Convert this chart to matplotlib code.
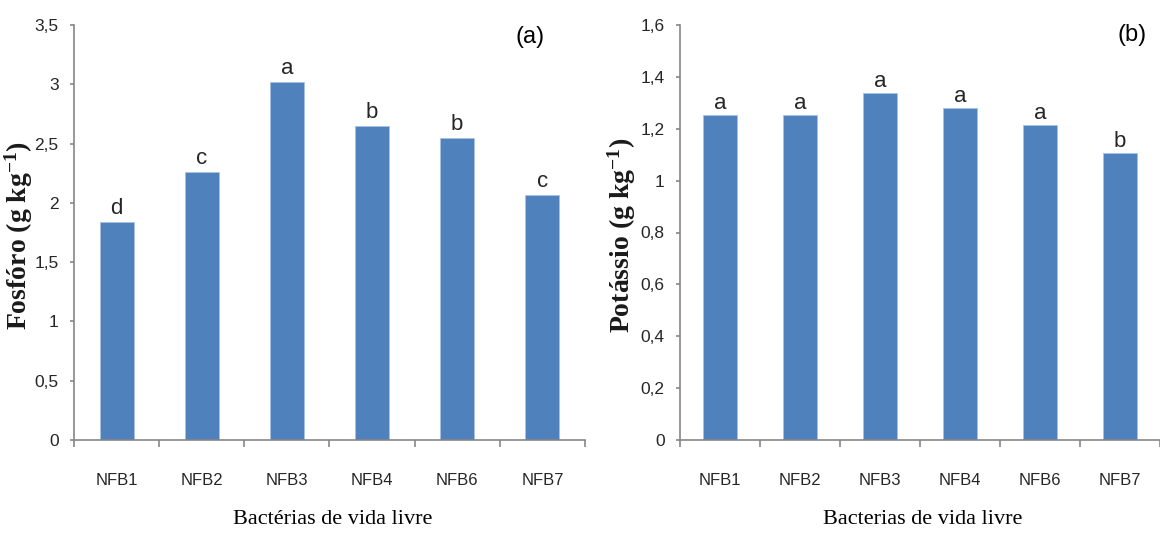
import matplotlib
matplotlib.use("Agg")
import matplotlib.pyplot as plt
from matplotlib.ticker import FuncFormatter
from matplotlib.transforms import offset_copy

categories = ["NFB1", "NFB2", "NFB3", "NFB4", "NFB6", "NFB7"]
fosforo = [1.84, 2.26, 3.02, 2.65, 2.55, 2.07]
fosforo_letters = ["d", "c", "a", "b", "b", "c"]
potassio = [1.254, 1.254, 1.338, 1.279, 1.213, 1.105]
potassio_letters = ["a", "a", "a", "a", "a", "b"]
fosforo_ticks = [0, 0.5, 1, 1.5, 2, 2.5, 3, 3.5]
potassio_ticks = [0, 0.2, 0.4, 0.6, 0.8, 1.0, 1.2, 1.4, 1.6]

plt.rcParams['mathtext.default'] = 'regular'

W, H = 1160, 535
fig = plt.figure(figsize=(W / 100, H / 100), dpi=100)

BAR = "#4F81BD"
AX = "#868686"
TXT = "#262626"
narrow = ['Liberation Sans', 'DejaVu Sans']
serif = ['Liberation Serif', 'DejaVu Serif']


def comma(v, pos):
    return ("%g" % v).replace(".", ",")


def panel(rect, values, letters, ticks, ylim, xright, bw, ylabel, ylab_x, xlab, xlab_x, tag, tag_xy, lab_off):
    l, b, r, t = rect
    ax = fig.add_axes([l / W, 1 - b / H, (r - l) / W, (b - t) / H])
    x = list(range(len(categories)))
    ax.bar(x, values, width=bw, color=BAR, edgecolor="#a9c2e3", linewidth=0.6, zorder=2)
    ax.set_xlim(-0.5, xright)
    ax.set_ylim(*ylim)
    for s in ["top", "right"]:
        ax.spines[s].set_visible(False)
    for s in ["left", "bottom"]:
        ax.spines[s].set_color(AX)
        ax.spines[s].set_linewidth(1.2)
    ax.set_yticks(ticks)
    ax.yaxis.set_major_formatter(FuncFormatter(comma))
    ax.set_xticks([i - 0.5 for i in range(len(categories) + 1)])
    ax.set_xticklabels([])
    ax.set_xticks(x, minor=True)
    ax.set_xticklabels(categories, minor=True)
    ax.tick_params(axis="x", which="major", length=5, color=AX, width=1.2, direction="out")
    ax.tick_params(axis="x", which="minor", length=0, pad=24, labelsize=12, labelcolor=TXT)
    ax.tick_params(axis="y", length=3, color=AX, width=1.2, direction="out", pad=8,
                   labelsize=12.5, labelcolor=TXT)
    for lab in ax.get_xticklabels(minor=True) + ax.get_yticklabels():
        lab.set_family(narrow)
    for xi, v, s in zip(x, values, letters):
        tr = offset_copy(ax.transData, fig=fig, x=0, y=lab_off, units="dots")
        ax.text(xi, v, s, transform=tr, ha="center", va="baseline", fontsize=16,
                color=TXT, family=narrow)
    fig.text(ylab_x / W, 1 - ((b + t) / 2 + 3) / H, ylabel, rotation=90, ha="center", va="center",
             fontsize=20, fontweight="bold", family=serif, color="#1a1a1a")
    fig.text(xlab_x / W, 1 - 519 / H, xlab, ha="center", va="center", fontsize=16,
             family=serif, color="black")
    fig.text(tag_xy[0] / W, 1 - tag_xy[1] / H, tag, ha="center", va="center", fontsize=17,
             family=narrow, color="black")
    return ax


panel((74, 440, 585, 25), fosforo, fosforo_letters, fosforo_ticks, (0, 3.5), 5.5, 0.4,
      "Fosfóro (g kg$^{-1}$)", 19, "Bactérias de vida livre", 333, "(a)", (530, 37), 8)
panel((680, 440, 1160, 25), potassio, potassio_letters, potassio_ticks, (0, 1.6), -0.5 + 480 / 81.2, 0.42,
      "Potássio (g kg$^{-1}$)", 622, "Bacterias de vida livre", 923, "(b)", (1132, 35), 6)

fig.savefig("out.png", dpi=100)
